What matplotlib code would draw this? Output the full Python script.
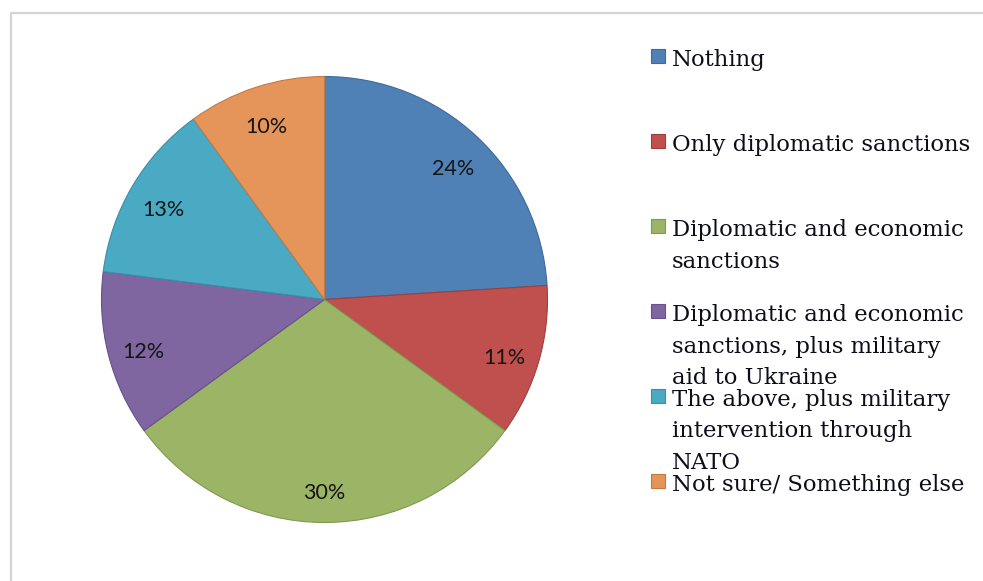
import matplotlib
matplotlib.use("Agg")
import matplotlib.pyplot as plt
from matplotlib.lines import Line2D
from matplotlib.patches import Rectangle
from matplotlib.transforms import offset_copy

# --- data

labels = [
    "Nothing",
    "Only diplomatic sanctions",
    "Diplomatic and economic\nsanctions",
    "Diplomatic and economic\nsanctions, plus military\naid to Ukraine",
    "The above, plus military\nintervention through\nNATO",
    "Not sure/ Something else",
]
shares = [24, 11, 30, 12, 13, 10]
colors = ["#4f81b6", "#c0504d", "#9bb466", "#8066a0", "#4aaac4", "#e6955a"]
edges = ["#3f6a99", "#9e3f3c", "#7f9a50", "#67518a", "#3a8ea6", "#c27a45"]

W, H = 983, 581
fig = plt.figure(figsize=(W / 100, H / 100), dpi=100)

# --- pie (square box in pixels so the circle stays round)

cx, cy, r = 324.5, 299.5, 223
ax = fig.add_axes([(cx - r) / W, (H - cy - r) / H, 2 * r / W, 2 * r / H])
wedges, _, autotexts = ax.pie(
    shares, colors=colors, startangle=90, counterclock=False,
    autopct="%d%%", pctdistance=0.84,
    wedgeprops=dict(linewidth=0.8),
    textprops=dict(fontsize=15.5, family="Lato", color="#151515"),
)
for w, ec in zip(wedges, edges):
    w.set_edgecolor(ec)
# percentage labels sit a little below the slice midline
for t in autotexts:
    t.set_transform(offset_copy(ax.transData, fig=fig, x=0, y=-6, units="dots"))
ax.set_xlim(-1, 1)
ax.set_ylim(-1, 1)
ax.axis("off")

# --- legend, drawn by hand with a fixed step between entries

def px(x, y):
    return x / W, 1 - y / H

for i, (lab, c, ec) in enumerate(zip(labels, colors, edges)):
    base = 66 + 85 * i
    x0, y0 = px(651, base - 3)
    fig.add_artist(Rectangle((x0, y0), 14 / W, 14 / H, transform=fig.transFigure,
                             facecolor=c, edgecolor=ec, linewidth=0.8))
    for j, line in enumerate(lab.split("\n")):
        fig.text(*px(672, base + 31.5 * j), line, fontsize=16.4,
                 family="DejaVu Serif", color="#0d0d1a", va="baseline", ha="left")

# --- frame on the left and top

fig.add_artist(Line2D([11 / W, 11 / W, 1], [0, 1 - 13 / H, 1 - 13 / H],
                      transform=fig.transFigure, color="#d3d3d3", linewidth=1.6))

fig.savefig("out.png", dpi=100)
